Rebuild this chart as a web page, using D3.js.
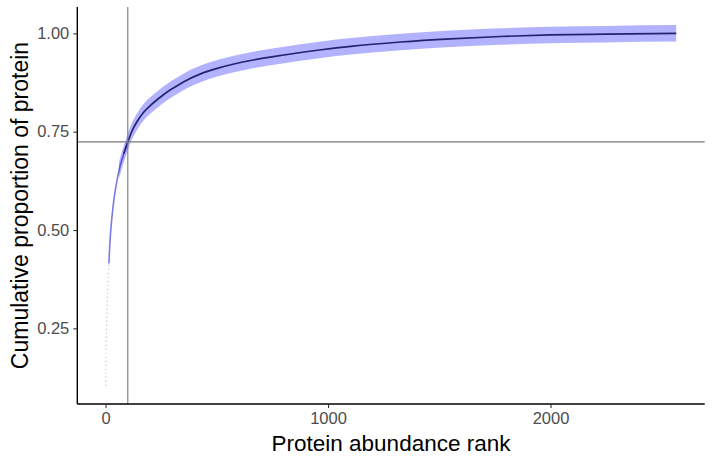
<!DOCTYPE html>
<html>
<head>
<meta charset="utf-8">
<script src="https://cdn.jsdelivr.net/npm/d3@7"></script>
<style>
  html, body { margin: 0; padding: 0; background: #fff; }
  svg { display: block; font-family: "Liberation Sans", Arial, sans-serif; }
</style>
</head>
<body>
<svg id="chart" width="712" height="458"></svg>
<script>
// ---- data ----
const ranks = [1,2,3,4,5,6,7,8,9,10,11,13,15,19,25,30,37,45,60,82,100,120,142,172,202,240,277,320,352,427,502,577,652,802,952,1102,1326,1550,1775,2000,2250,2565];
const cumProp = [0.104,0.179,0.211,0.237,0.262,0.282,0.300,0.320,0.338,0.354,0.367,0.393,0.415,0.462,0.510,0.540,0.575,0.605,0.651,0.694,0.724,0.753,0.776,0.800,0.817,0.835,0.851,0.866,0.877,0.897,0.911,0.922,0.931,0.945,0.957,0.967,0.978,0.986,0.992,0.996,0.998,1.000];
const ribbonLow = [0.104,0.158,0.190,0.216,0.241,0.261,0.279,0.299,0.317,0.333,0.346,0.372,0.394,0.441,0.489,0.519,0.554,0.584,0.630,0.673,0.703,0.732,0.755,0.779,0.796,0.814,0.830,0.845,0.856,0.876,0.890,0.901,0.910,0.924,0.936,0.946,0.957,0.965,0.971,0.975,0.977,0.979];
const ribbonHigh = [0.125,0.200,0.232,0.258,0.283,0.303,0.321,0.341,0.359,0.375,0.388,0.414,0.436,0.483,0.531,0.561,0.596,0.626,0.672,0.715,0.745,0.774,0.797,0.821,0.838,0.856,0.872,0.887,0.898,0.918,0.932,0.943,0.952,0.966,0.978,0.988,0.999,1.007,1.013,1.017,1.019,1.021];
const xTicks = [0, 1000, 2000];
const yTicks = [0.25, 0.50, 0.75, 1.00];
const vLineRank = 100;
const hLineProp = 0.724;
const xDomain = [-127, 2693];
const yDomain = [0.0577, 1.067];

(function () {
const data = ranks.map((r, i) => ({ r, v: cumProp[i], lo: ribbonLow[i], hi: ribbonHigh[i] }));

// ---- layout ----
const svg = d3.select("#chart");
const pLeft = 77.3, pRight = 704.7, pTop = 7, pBottom = 404;

const x = d3.scaleLinear().domain(xDomain).range([pLeft, pRight]);
const y = d3.scaleLinear().domain(yDomain).range([pBottom, pTop]);

const g = svg.append("g");

const line = d3.line().x(d => x(d.r)).y(d => y(d.v)).curve(d3.curveMonotoneX);

// sparse low-rank points look faint; the dense part forms a dark line
const seg1 = data.filter(d => d.r <= 15);
const seg2 = data.filter(d => d.r >= 15 && d.r <= 100);
const seg3 = data.filter(d => d.r >= 82);

g.append("path").datum(seg1).attr("d", line)
  .attr("fill", "none").attr("stroke", "#b8b8c0").attr("stroke-width", 1.2)
  .attr("stroke-dasharray", "1,3");
g.append("path").datum(seg2).attr("d", line)
  .attr("fill", "none").attr("stroke", "#7a7ae4").attr("stroke-width", 1.6);
g.append("path").datum(seg3).attr("d", line)
  .attr("fill", "none").attr("stroke", "#333333").attr("stroke-width", 1.7);

// ribbon (drawn over the line, semi-transparent blue)
const area = d3.area().x(d => x(d.r)).y0(d => y(d.lo)).y1(d => y(d.hi)).curve(d3.curveMonotoneX);
g.append("path").datum(data.filter(d => d.r >= 60)).attr("d", area)
  .attr("fill", "#0000ff").attr("fill-opacity", 0.3);

// reference lines
g.append("line")
  .attr("x1", x(vLineRank)).attr("x2", x(vLineRank))
  .attr("y1", pTop).attr("y2", pBottom)
  .attr("stroke", "#7a7a7a").attr("stroke-width", 1.1);
g.append("line")
  .attr("x1", pLeft).attr("x2", pRight)
  .attr("y1", y(hLineProp)).attr("y2", y(hLineProp))
  .attr("stroke", "#7a7a7a").attr("stroke-width", 1.1);

// axes
const xAxis = d3.axisBottom(x).tickValues(xTicks).tickFormat(d3.format("d")).tickSize(4).tickPadding(4);
const yAxis = d3.axisLeft(y).tickValues(yTicks).tickFormat(d3.format(".2f")).tickSize(4).tickPadding(4);

const gx = svg.append("g").attr("transform", `translate(0,${pBottom})`).call(xAxis);
const gy = svg.append("g").attr("transform", `translate(${pLeft},0)`).call(yAxis);

gx.select(".domain").attr("d", `M${pLeft},0H${pRight}`).attr("stroke", "#000").attr("stroke-width", 1.4);
gy.select(".domain").attr("d", `M0,${pTop}V${pBottom}`).attr("stroke", "#000").attr("stroke-width", 1.4);

[gx, gy].forEach(a => {
  a.selectAll(".tick line").attr("stroke", "#333").attr("stroke-width", 1.1);
  a.selectAll(".tick text").attr("fill", "#4d4d4d").style("font-size", "16.5px")
    .style("font-family", "'Liberation Sans', Arial, sans-serif");
});

// axis titles
svg.append("text")
  .attr("x", (pLeft + pRight) / 2).attr("y", 451)
  .attr("text-anchor", "middle")
  .style("font-size", "22.5px").attr("fill", "#000")
  .text("Protein abundance rank");

svg.append("text")
  .attr("transform", `translate(28,${(pTop + pBottom) / 2}) rotate(-90)`)
  .attr("text-anchor", "middle")
  .style("font-size", "23px").attr("fill", "#000")
  .text("Cumulative proportion of protein");
})();
</script>
</body>
</html>
